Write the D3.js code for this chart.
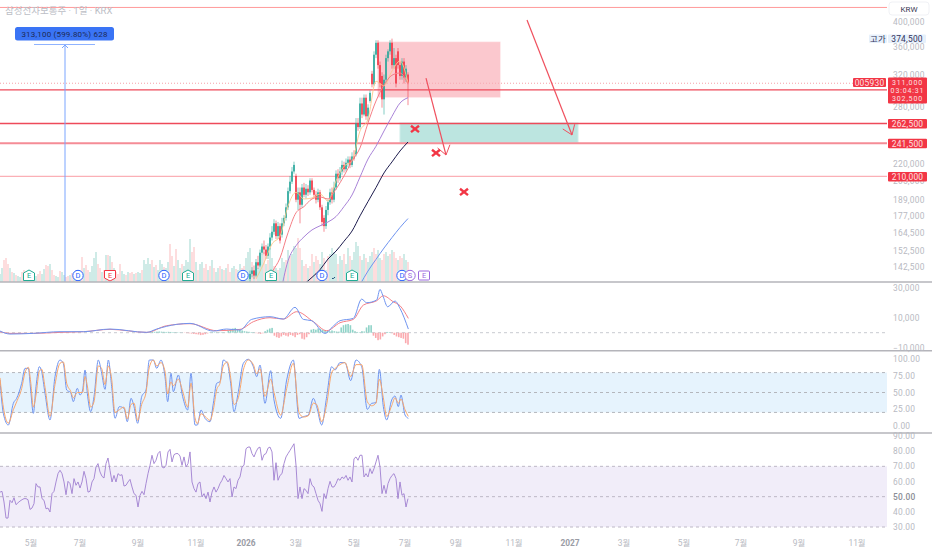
<!DOCTYPE html>
<html><head><meta charset="utf-8">
<script src="https://cdn.jsdelivr.net/npm/d3@7"></script>
<style>html,body{margin:0;padding:0;background:#fff;overflow:hidden}svg{display:block}
text{font-family:Roboto,"Noto Sans CJK KR",sans-serif}</style></head><body>
<div id="c"></div>
<script>
// ---------- time axis (t = chart time units)
const timeTicks=[93,240,414,588,738,888,1062,1215,1368,1542,1710,1872,2052,2223,2397,2571];
const timeLabels=["5월","7월","9월","11월","2026","3월","5월","7월","9월","11월","2027","3월","5월","7월","9월","11월"];
// ---------- price axis
const priceTicks=[400000,360000,320000,280000,220000,205000,189000,177000,164500,152500,142500];
// ---------- candles, thousands of KRW
const candleOpen=[136,139,141,138,146,144,152,156,154,150,156,162,166,172,163,170,164,172,176,184,197,205,214,210,190,196,186,200,194,199,196,206,198,194,190,196,184,176,170,182,188,196,190,200,212,208,214,220,216,222,225,220,228,230,262,258,285,272,292,270,288,323,309,350,368,335,320,290,315,345,355,368,335,345,355,335,320,340,318,322];
const candleClose=[139,141,138,146,144,152,156,154,150,156,162,166,172,163,170,160,172,176,184,197,205,214,220,190,196,186,200,194,199,196,206,198,194,190,196,184,173,170,182,188,196,190,200,212,208,214,220,216,222,225,220,228,226,262,258,285,272,292,270,280,298,309,350,368,335,310,290,315,345,355,368,335,345,310,335,320,340,318,330,311];
const candleHigh=[141,143,144,148,150,154,158,160,157,158,165,170,175,174,173,172,176,178,187,200,210,218,223,212,200,200,203,204,203,202,208,208,200,197,199,198,186,178,185,190,199,200,205,215,216,218,224,223,226,228,228,232,234,268,268,292,292,296,296,284,301,327,355,372,372,340,325,322,350,358,372,374.5,360,350,360,340,345,345,335,325];
const candleLow=[134,137,136,137,142,143,150,151,148,148,154,160,164,161,161,158,162,170,174,182,195,203,212,188,182,172,184,192,191,193,194,196,192,187,188,182,170,166,168,178,186,187,188,198,204,206,211,213,214,218,217,218,224,228,254,256,268,270,266,264,286,305,307,345,330,305,280,272,310,340,350,330,330,305,330,315,315,310,312,283];
// ---------- moving averages, sampled on maTimes
const maTimes=[744,768,792,816,840,864,888,912,936,960,984,1008,1032,1056,1080,1104,1128,1152,1176,1200,1224];
const maOrange=[null,136,145.6,157.7,163,185,196,190.6,191.4,194.6,189,205.6,218.7,223.7,253.8,267,313,307,326.8,340.8,311];
const maRed=[null,null,131,140,148.6,165.3,179.8,184.6,190.6,192.2,190.6,198.7,210,223.7,236.3,262.5,288,308,321,324,309];
const maPurple=[null,null,null,null,126.5,146.8,156.5,162.5,167.3,170.2,173,177,184.6,193.8,209,225.5,238,253.8,270,285.5,292];
const maNavy=[null,null,null,null,null,null,null,133,137,141.5,148,153,159.5,166.5,177.5,188.5,200,212.7,222.8,233.3,242.3];
const maBlue=[null,null,null,null,null,null,null,null,null,null,null,null,null,null,132.8,140.7,147.8,155,162,169,175.5];
// ---------- volume
const volumes=[8,14,22,24,18,14,10,9,7,6,5,10,12,9,7,6,5,7,6,8,11,8,13,17,16,18,12,7,6,5,11,10,7,5,6,7,9,8,12,11,10,25,14,17,12,10,16,24,30,18,14,10,12,27,27,26,20,14,10,8,18,11,8,7,10,9,10,8,9,10,9,12,22,18,24,18,22,15,17,12,22,18,15,14,20,38,26,16,33,22,14,18,16,22,20,43,30,35,20,12,18,20,14,18,12,16,22,14,10,14,16,13,12,14,18,10,14,16,13,12,18,14,16,24,30,34,20,12,10,14,20,26,30,18,22,34,24,16,14,12,14,24,20,22,32,26,28,36,34,44,34,22,16,18,14,16,28,20,26,22,18,30,24,12,26,28,34,30,28,18,26,22,28,18,34,26,22,30,40,36,26,22,28,24,20,26,30,34,28,32,24,22,28,30,26,28,32,30,24,22,26,24,28,22,20];
const volumeUp=[1,1,0,0,0,1,0,1,0,1,1,0,0,0,1,1,0,0,1,0,0,1,1,0,0,1,0,0,1,1,0,1,1,0,0,1,0,1,0,0,1,0,1,0,0,1,1,1,1,0,0,1,0,1,0,1,0,1,0,0,0,1,1,0,1,0,0,1,0,1,1,0,1,1,1,1,0,1,0,1,1,1,0,1,1,0,0,1,0,1,1,0,1,1,1,1,0,0,1,0,1,1,0,0,1,0,1,0,1,1,0,1,0,1,0,0,1,1,0,1,1,0,0,1,1,1,0,1,0,1,1,1,0,1,0,1,1,0,1,0,1,1,1,0,1,0,1,1,1,0,0,1,0,0,1,0,0,1,0,0,1,1,0,1,0,1,1,1,1,0,1,1,0,1,1,0,1,1,1,1,0,1,1,0,1,1,1,0,0,1,1,0,0,1,1,0,1,0,0,1,0,0,1,1,0];
// ---------- MACD
const macdTimes=[0,30,100,180,250,330,440,470,530,570,640,680,720,755,810,850,885,910,935,975,1000,1020,1060,1085,1100,1130,1140,1148,1163,1185,1200,1225];
const macdLine=[1110,-890,-440,670,670,2440,220,2440,5550,6220,1110,2440,1780,8880,10660,9100,16900,8880,8000,-440,4440,8000,9550,22400,20000,21800,28900,25100,17300,21100,16200,2440];
const signalTimes=[0,30,100,180,250,330,440,500,570,650,720,760,810,850,890,940,980,1020,1060,1090,1130,1150,1180,1200,1225];
const signalLine=[670,-440,-440,220,670,2220,220,4660,6000,1330,2220,7330,10000,9100,14000,7330,1330,6660,8880,18400,21300,24600,20600,18000,9550];
const macdHist=[400,500,600,700,800,700,600,500,600,500,400,300,300,200,100,-200,-300,-400,-600,-800,-1000,-1200,-1600,-1400,-1000,-500,200,300,300,200,300,300,200,100,1500,2000,2800,3200,2500,1800,1500,1000,800,600,400,300,-300,-500,-800,-400,1000,2000,2800,3200,-2000,-3000,-3500,-2500,-1500,-2000,-2500,-1500,-2000,-3000,-1500,-1000,-4000,-4500,-3000,-1000,2000,2500,2000,2800,2600,1800,1500,1200,1000,1500,1000,800,700,3500,5000,5500,5800,5000,2000,1000,500,300,1000,800,3500,5000,5000,-2000,-3500,-5000,-4500,-2500,-1000,500,400,-300,-1500,-2500,-3000,-3500,-4000,-7000,-8000];
// ---------- Stochastic RSI
const stochTimes=[0,10,25,40,50,65,75,85,92,100,108,118,125,135,150,165,180,190,200,212,220,232,240,248,255,262,272,282,295,305,315,325,335,345,358,372,382,393,402,413,425,438,448,460,470,483,495,503,513,520,535,548,563,573,585,592,603,615,630,640,650,660,670,682,692,702,715,730,745,760,770,780,795,812,822,842,860,880,897,910,925,940,950,965,980,995,1005,1020,1035,1052,1068,1085,1102,1115,1128,1138,1150,1160,1175,1185,1195,1203,1215,1225];
const stochK=[68.8,18.6,1,33.7,41.2,63.8,86.4,86.4,53.8,18.6,58.8,88.9,81.4,48.7,8.6,73.8,98.9,93.9,53.8,49.7,36.2,56.3,46.2,53.8,83.9,48.7,21.1,43.7,98.9,78.9,54.8,98.9,58.8,11.1,28.7,26.2,6,41.2,28.7,3.6,43.7,53.8,98.9,98.9,86.4,98.9,73.8,36.2,78.9,51.2,76.4,43.7,23.6,78.9,1,1,23.6,11.1,6,33.7,63.8,66.3,98.9,93.9,63.8,21.1,51.2,93.9,100,88.9,73.8,91.4,33.7,82.9,38.7,11.1,68.8,98.9,11.1,13.6,16.1,41.2,28.7,1,43.7,88.9,83.9,95,95,67.8,98.9,88.9,24.6,33.7,34.7,84.9,28.7,8.6,38.7,44.7,28.7,46.2,16.1,11.1];
const stochD=[72,28,4,24,36,56,80,88,66,28,46,82,85,58,14,62,94,96,64,52,42,50,50,50,74,60,28,36,90,86,62,90,70,20,24,28,10,32,34,8,32,50,88,99,90,95,82,48,66,60,70,52,28,64,12,3,18,14,8,24,54,64,90,96,72,32,42,84,99,92,78,86,44,70,50,16,56,94,20,13,15,34,32,6,32,80,86,92,95,74,92,92,36,30,34,70,42,14,30,42,34,40,24,14];
// ---------- RSI
const rsiValues=[53,53.5,46.5,35.9,35.9,47.6,46,49.3,44.7,46,47.1,48,48.7,48.7,48,41.6,42.5,45.4,58.6,56.4,56.4,48.7,47.6,42,42.5,39.9,52,53.5,59.7,65.2,67.4,65.2,59.7,51.3,60.1,58.6,52,61.9,57.5,59.7,55.7,59.7,66.7,61.9,53,53.5,59.7,61.9,69.6,71.8,66.3,63.4,62.3,71.8,75.5,67.4,59.7,64,59.7,65.2,64,64.5,57,57.5,59.7,61.4,56.4,52,50.9,43.2,50.9,53.5,51.3,58.6,65.2,70.7,77.3,71.8,74,78.4,79.9,69.6,68.9,70.7,79.5,81.2,72.9,77.7,78.4,78.4,76.8,70.7,76.2,69.6,71.8,79.5,59.7,55.3,53,58.6,59.7,49.8,52,48.7,53,46.5,53,56.4,53,55.3,58.6,60.8,64,61.9,59.7,61.9,49.8,56.4,55.3,60.8,63,69.6,70.7,81.6,82.7,82.7,78.4,76.2,79.5,82,82.7,74,77.7,78.4,82,82.7,79.5,60.8,72.4,60.8,64,65.2,71.8,76.2,78.4,80.5,82.7,84.9,70.7,48.7,56.4,48.7,55.3,54.2,52,61.9,57.5,56.4,52,47.6,45.4,40.3,52,48.7,55.3,60.1,56.4,56.4,58.6,61.9,60.8,63,61.9,64,60.8,63,59.7,75,76.2,74,77.3,77.3,63,65.2,63,68.5,65.2,68.5,72.9,77.3,69.6,52,57.5,52,58.6,61.9,64,65.2,61.9,48.7,59.7,50.9,52,43.2,48.7];
// ---------- price levels and annotations
const levelPrices=[428000,302500,262500,241500,210000];
const levelLabels=[null,"302,500","262,500","241,500","210,000"];
const crossTimes=[1245,1308,1392];
const crossPrices=[256000,231400,196300];

const W=932,H=550,plotR=887;
const svg=d3.select("#c").append("svg").attr("width",W).attr("height",H);
const x=d3.scaleLinear().domain([0,2796]).range([0,W]);
const y=d3.scaleLog().domain([142500,400000]).range([268,23]);
const yVol=d3.scaleLinear().domain([0,50]).range([282,232]);
const yMacd=d3.scaleLinear().domain([-10000,30000]).range([347.7,287.7]);
const yStoch=d3.scaleLinear().domain([0,100]).range([425.7,359.3]);
const yRsi=d3.scaleLinear().domain([30,90]).range([527,436]);
const clip=(id,h0,h1)=>svg.append("clipPath").attr("id",id).append("rect").attr("x",0).attr("y",h0).attr("width",plotR).attr("height",h1-h0);
clip("cMain",0,282);clip("cMacd",283,350);clip("cStoch",351,433);clip("cRsi",433,532);
const gMain=svg.append("g").attr("clip-path","url(#cMain)");

// volume
const vx=i=>x(i*1224/(volumes.length-1));
gMain.append("g").selectAll("rect").data(volumes).join("rect")
 .attr("x",(d,i)=>vx(i)-.8).attr("width",1.6).attr("y",d=>yVol(d)).attr("height",d=>282-yVol(d))
 .attr("fill",(d,i)=>volumeUp[i]?"#c4e7e2":"#fdd5d6");

// zones
const zone=(t0,t1,p0,p1,fill,stroke)=>gMain.append("rect").attr("x",x(t0)).attr("width",x(t1)-x(t0))
  .attr("y",y(p0)).attr("height",y(p1)-y(p0)).attr("fill",fill).attr("stroke",stroke).attr("stroke-width",1);
// levels
gMain.append("line").attr("x1",0).attr("x2",plotR).attr("y1",y(311000)+.5).attr("y2",y(311000)+.5)
 .attr("stroke","#f7a0a8").attr("stroke-dasharray","1 2").attr("stroke-width",1);
zone(1134,1500,369000,292800,"rgba(249,170,180,.65)","rgba(252,200,205,.7)");
zone(1200,1734,262500,241500,"#bce5e0","#cfeeea");
const levelStyle=[["#f99",1],["#ee4a5a",1.3],["#ee4a5a",1.3],["#f58c96",2],["#fbb0b6",1.3]];
gMain.append("g").selectAll("line").data(levelPrices).join("line")
 .attr("x1",0).attr("x2",plotR).attr("y1",d=>y(d)+.5).attr("y2",d=>y(d)+.5)
 .attr("stroke",(d,i)=>levelStyle[i][0]).attr("stroke-width",(d,i)=>levelStyle[i][1]);

// candles
const cx=i=>x(750+i*6);
const candle=gMain.append("g").selectAll("g").data(candleOpen).join("g");
const cColor=(i)=>candleClose[i]>=candleOpen[i]?"#26a69a":"#f23645";
candle.append("line").attr("x1",(d,i)=>cx(i)).attr("x2",(d,i)=>cx(i))
 .attr("y1",(d,i)=>y(candleHigh[i]*1000)).attr("y2",(d,i)=>y(candleLow[i]*1000))
 .attr("stroke",(d,i)=>cColor(i)).attr("stroke-width",.7).attr("opacity",.8);
candle.append("rect").attr("x",(d,i)=>cx(i)-.8).attr("width",1.6)
 .attr("y",(d,i)=>y(Math.max(candleOpen[i],candleClose[i])*1000))
 .attr("height",(d,i)=>Math.max(.8,Math.abs(y(candleOpen[i]*1000)-y(candleClose[i]*1000))))
 .attr("fill",(d,i)=>cColor(i));

// MAs
const maLine=d3.line().defined(d=>d!=null).x((d,i)=>x(maTimes[i])).y(d=>y(d*1000)).curve(d3.curveMonotoneX);
[[maOrange,"#fbc98a",.9],[maRed,"#f57f86",1],[maPurple,"#a983d8",1],[maNavy,"#1c1b4d",1],[maBlue,"#6f94f0",1]].forEach(([s,c,w])=>{
 gMain.append("path").attr("d",maLine(s)).attr("fill","none").attr("stroke",c).attr("stroke-width",w);
});

// event badges
const eventTimes=[87,234,330,492,564,729,813,966,1056,1206,1230,1272];
const eventKinds=["Et","D","Er","D","Et","D","Et","D","Et","D","Sp","Ep"];
const ev=gMain.append("g").selectAll("g").data(eventTimes).join("g").attr("transform",d=>`translate(${x(d)},275.5)`);
const evCol={Et:"#22ab94",Er:"#f23645",D:"#2962ff",Sp:"#9c6ade",Ep:"#9c6ade"};
ev.each(function(d,i){
 const k=eventKinds[i],g=d3.select(this);
 if(k==="D"||k==="Sp") g.append("circle").attr("r",5.2);
 else if(k==="Ep") g.append("rect").attr("x",-5.5).attr("y",-4.5).attr("width",11).attr("height",9).attr("rx",1);
 else if(k==="Et") g.append("path").attr("d","M-5.5,-2.5L0,-5.5L5.5,-2.5V5H-5.5Z");
 else g.append("path").attr("d","M-5.5,-5H5.5V2.5L0,5.5L-5.5,2.5Z");
 g.selectAll("circle,path,rect").attr("fill","#fff").attr("stroke",evCol[k]).attr("stroke-width",1);
 g.append("text").text(k[0]).attr("text-anchor","middle").attr("y",2.7).attr("font-size",7.5).attr("fill",evCol[k]);
});
gMain.append("path").attr("d",`M${x(996)},278.5Q${x(1002)},279 ${x(1005)},277`).attr("fill","none").attr("stroke","#1c4f7a").attr("stroke-width",1);

// measure arrow
const mt=195;
svg.append("line").attr("x1",x(mt)).attr("x2",x(mt)).attr("y1",44.5).attr("y2",282).attr("stroke","#7aa5ff");
svg.append("line").attr("x1",x(102)).attr("x2",x(285)).attr("y1",44.5).attr("y2",44.5).attr("stroke","#8fb3ff");
svg.append("path").attr("d",`M${x(mt)-3},48L${x(mt)},45L${x(mt)+3},48`).attr("fill","none").attr("stroke","#7aa5ff");
svg.append("rect").attr("x",15).attr("y",27).attr("width",99).attr("height",13.5).attr("rx",2.5).attr("fill","#3a74f5");
svg.append("text").attr("x",64.5).attr("y",36.8).attr("text-anchor","middle").attr("font-size",8).attr("fill","#1d2a55").attr("letter-spacing",.2).text("313,100 (599.80%) 628");

// arrows
const arrow=(t0,p0,t1,p1)=>{
 const x0=x(t0),y0=y(p0),x1=x(t1),y1=y(p1),a=Math.atan2(y1-y0,x1-x0),L=11,s=.62;
 const g=svg.append("g").attr("fill","none").attr("stroke","#f0505e");
 g.append("line").attr("x1",x0).attr("y1",y0).attr("x2",x1).attr("y2",y1).attr("stroke-width",1.2);
 g.append("path").attr("d",`M${x1-L*Math.cos(a-s)},${y1-L*Math.sin(a-s)}L${x1},${y1}L${x1-L*Math.cos(a+s)},${y1-L*Math.sin(a+s)}`);
};
arrow(1278,317000,1338,229400);
arrow(1581,405000,1716,249600);
// crosses
svg.append("g").selectAll("path").data(crossTimes).join("path")
 .attr("d",(d,i)=>{const a=x(d),b=y(crossPrices[i]);return `M${a-4},${b-3.2}L${a+4},${b+3.2}M${a+4},${b-3.2}L${a-4},${b+3.2}`;})
 .attr("stroke","#f23645").attr("stroke-width",2.4).attr("fill","none");

// MACD
const gM=svg.append("g").attr("clip-path","url(#cMacd)");
gM.append("line").attr("x1",0).attr("x2",plotR).attr("y1",yMacd(0)).attr("y2",yMacd(0)).attr("stroke","#c8cad0").attr("stroke-dasharray","3 3");
const hx=i=>x(450+i*(1224-450)/(macdHist.length-1));
gM.append("g").selectAll("rect").data(macdHist).join("rect")
 .attr("x",(d,i)=>hx(i)-.8).attr("width",1.6).attr("y",d=>Math.min(yMacd(d),yMacd(0))).attr("height",d=>Math.abs(yMacd(d)-yMacd(0)))
 .attr("fill",d=>d>=0?"#8fd3c8":"#fba9ae");
gM.append("path").attr("d",d3.line().x((d,i)=>x(signalTimes[i])).y(d=>yMacd(d)).curve(d3.curveMonotoneX)(signalLine)).attr("fill","none").attr("stroke","#f57f86").attr("stroke-width",1);
gM.append("path").attr("d",d3.line().x((d,i)=>x(macdTimes[i])).y(d=>yMacd(d)).curve(d3.curveMonotoneX)(macdLine)).attr("fill","none").attr("stroke","#6f94f0").attr("stroke-width",1);

// Stoch
const gS=svg.append("g").attr("clip-path","url(#cStoch)");
gS.append("rect").attr("x",0).attr("width",plotR).attr("y",yStoch(80)).attr("height",yStoch(20)-yStoch(80)).attr("fill","#e6f3fd");
[80,50,20].forEach(v=>gS.append("line").attr("x1",0).attr("x2",plotR).attr("y1",yStoch(v)).attr("y2",yStoch(v)).attr("stroke","#b4b6bc").attr("stroke-dasharray","3 3"));
const sl=d3.line().x((d,i)=>x(stochTimes[i])).y(d=>yStoch(d)).curve(d3.curveMonotoneX);
gS.append("path").attr("d",sl(stochK)).attr("fill","none").attr("stroke","#6f94f0").attr("stroke-width",1);
gS.append("path").attr("d",sl(stochD)).attr("fill","none").attr("stroke","#f9a66c").attr("stroke-width",1);

// RSI
const gR=svg.append("g").attr("clip-path","url(#cRsi)");
gR.append("rect").attr("x",0).attr("width",plotR).attr("y",yRsi(70)).attr("height",yRsi(30)-yRsi(70)).attr("fill","#f1edf9");
[70,50,30].forEach(v=>gR.append("line").attr("x1",0).attr("x2",plotR).attr("y1",yRsi(v)).attr("y2",yRsi(v)).attr("stroke","#bdb8c6").attr("stroke-dasharray","3 3"));
gR.append("path").attr("d",d3.line().x((d,i)=>x(i*1224/(rsiValues.length-1))).y(d=>yRsi(d))(rsiValues)).attr("fill","none").attr("stroke","#9f7fd0").attr("stroke-width",.9);

// separators
[282,350.7,433].forEach(v=>svg.append("line").attr("x1",0).attr("x2",W).attr("y1",v).attr("y2",v).attr("stroke","#b4b4ba").attr("stroke-width",1.6));

// axis text
const ax=(val,yy,bold)=>svg.append("text").attr("x",893).attr("y",yy).attr("font-size",8.4).attr("fill",bold?"#8a8d96":"#b8bac2").attr("font-weight",bold?500:400).attr("letter-spacing",.25).text(val);
priceTicks.forEach(p=>ax(d3.format(",")(p),y(p)+2,false));
[30000,10000,-10000].forEach(v=>ax((v<0?"−":"")+d3.format(",")(Math.abs(v)),yMacd(v)+3,false));
[100,75,50,25,0].forEach(v=>ax(v.toFixed(2),yStoch(v)+3,false));
[90,80,70,60,40,30].forEach(v=>ax(v.toFixed(2),yRsi(v)+3,false));
ax("50.00",yRsi(50)+3,true);
svg.append("g").selectAll("text").data(timeTicks).join("text").attr("x",d=>x(d)).attr("y",546).attr("text-anchor","middle")
 .attr("font-size",8.4).attr("fill",(d,i)=>timeLabels[i].length===4?"#9a9ca5":"#b8bac2").attr("font-weight",(d,i)=>timeLabels[i].length===4?700:400).text((d,i)=>timeLabels[i]);

// title & KRW
svg.append("text").attr("x",5).attr("y",13.5).attr("font-size",9.5).attr("fill","#bcbec6").text("삼성전자보통주 · 1일 · KRX");
svg.append("rect").attr("x",889).attr("y",2).attr("width",40).attr("height",13).attr("rx",3).attr("fill","#fff").attr("stroke","#f0f1f5");
svg.append("text").attr("x",909).attr("y",11.5).attr("text-anchor","middle").attr("font-size",8).attr("fill","#3a3a55").text("KRW");

// tags
const tag=(x0,yy,w,h,fill,txt,col)=>{
 svg.append("rect").attr("x",x0).attr("y",yy).attr("width",w).attr("height",h).attr("rx",1).attr("fill",fill);
 if(txt) svg.append("text").attr("x",x0+w/2).attr("y",yy+h/2+3).attr("text-anchor","middle").attr("font-size",8.4).attr("letter-spacing",.25).attr("fill",col).text(txt);
};
tag(869,34.5,18,8.5,"#e6f0fb","고가","#33335a");
tag(888,34.5,38,8.5,"#e6f0fb","374,500","#33335a");
tag(853,78,33,9,"#f23645","005930","#fde0e2");
tag(888,77.5,39,26,"#f23645",null);
[["311,000",84.8],["03:04:31",93.1],["302,500",101.4]].forEach(([t,yy])=>svg.append("text").attr("x",907.5).attr("y",yy).attr("text-anchor","middle").attr("font-size",7).attr("letter-spacing",.85).attr("fill","#fde0e2").text(t));
levelPrices.forEach((p,i)=>{ if(i>1) tag(888,y(p)-4,39,9.5,"#f23645",levelLabels[i],"#fde0e2"); });
</script></body></html>
